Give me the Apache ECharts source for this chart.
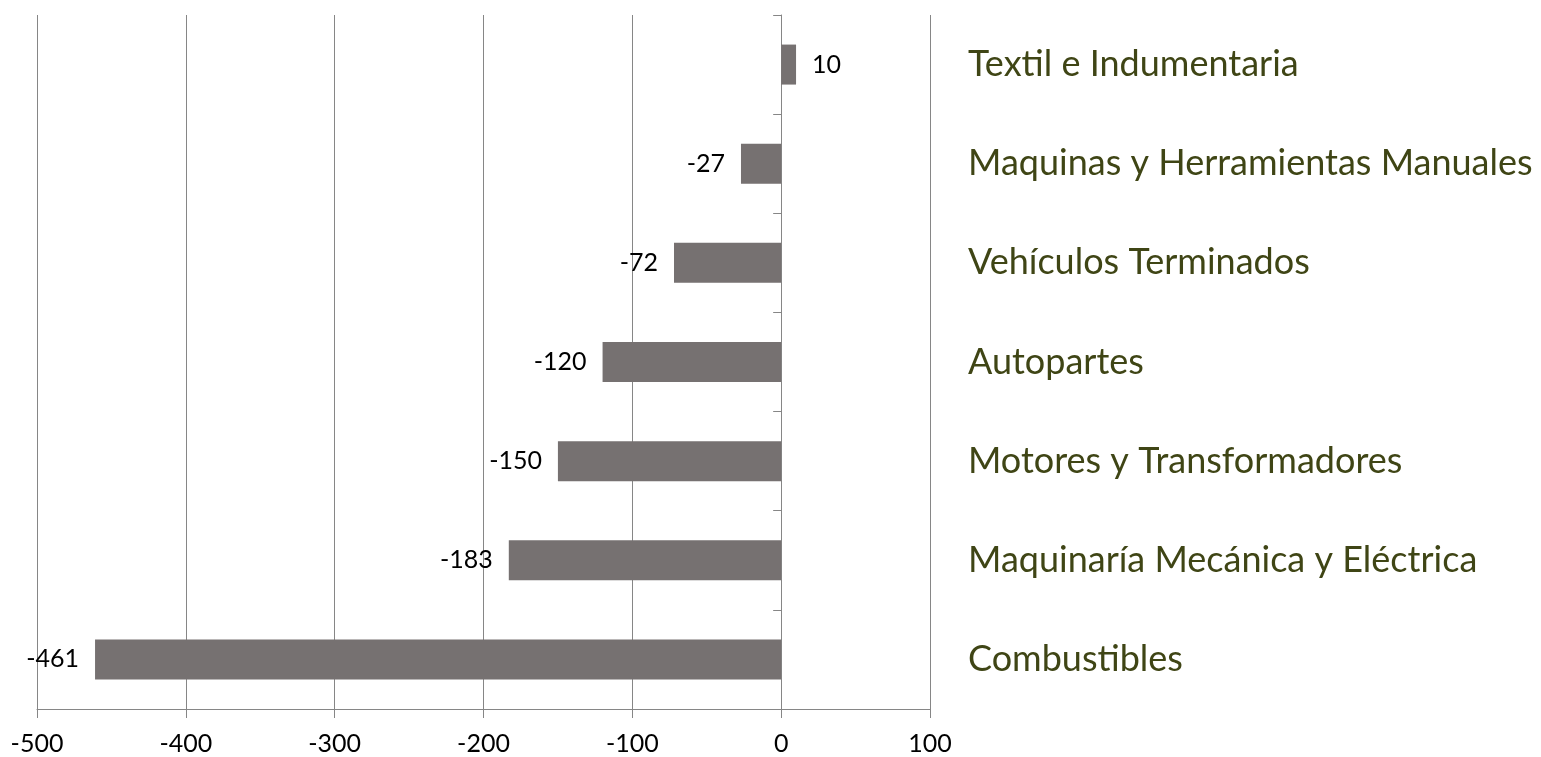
<!DOCTYPE html>
<html>
<head>
<meta charset="utf-8">
<script src="https://cdn.jsdelivr.net/npm/echarts@6/dist/echarts.min.js"></script>
<style>
  html, body { margin: 0; padding: 0; background: #fff; }
  #chart { width: 1541px; height: 757px; }
</style>
</head>
<body>
<div id="chart"></div>
<script>
// categorías de abajo hacia arriba
const categories = [
  'Combustibles',
  'Maquinaría Mecánica y Eléctrica',
  'Motores y Transformadores',
  'Autopartes',
  'Vehículos Terminados',
  'Maquinas y Herramientas Manuales',
  'Textil e Indumentaria'
];
const values = [-461, -183, -150, -120, -72, -27, 10];
const axisMin = -500;
const axisMax = 100;
const axisStep = 100;

const chart = echarts.init(document.getElementById('chart'));
const font = 'Lato, "Open Sans", sans-serif';

const option = {
  animation: false,
  grid: { left: 37, right: 611, top: 15, bottom: 48 },
  xAxis: {
    type: 'value',
    min: axisMin,
    max: axisMax,
    interval: axisStep,
    axisLine: { show: true, lineStyle: { color: '#868686', width: 1 } },
    axisTick: { show: true, length: 9, lineStyle: { color: '#868686' } },
    axisLabel: { color: '#000', fontSize: 25, fontFamily: font, margin: 22 },
    splitLine: { show: true, lineStyle: { color: '#868686', width: 1 } }
  },
  yAxis: [
    {
      type: 'category',
      data: categories,
      axisLine: { show: true, onZero: true, lineStyle: { color: '#868686' } },
      axisTick: { show: true, length: 8, lineStyle: { color: '#868686' } },
      axisLabel: { show: false }
    },
    {
      type: 'category',
      data: categories,
      position: 'right',
      axisLine: { show: false },
      axisTick: { show: false },
      axisLabel: { color: '#3f4515', fontSize: 36, fontFamily: font, margin: 38, align: 'left' }
    }
  ],
  series: [
    {
      type: 'bar',
      data: values.map(v => ({
        value: v,
        label: { position: v < 0 ? 'left' : 'right' }
      })),
      barWidth: 40,
      itemStyle: { color: '#767171' },
      label: {
        show: true,
        distance: 16,
        color: '#000',
        fontSize: 25,
        fontFamily: font
      }
    }
  ]
};
chart.setOption(option);
</script>
</body>
</html>
